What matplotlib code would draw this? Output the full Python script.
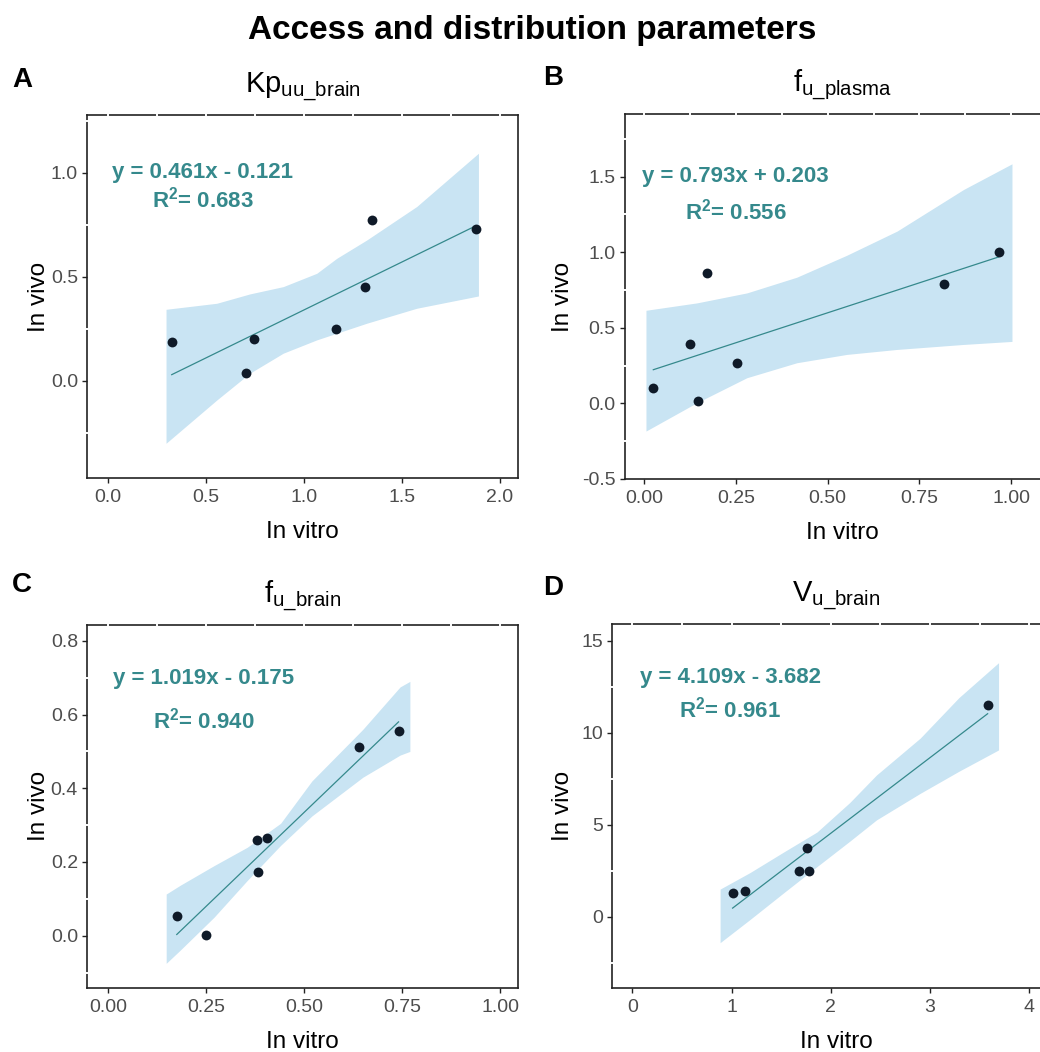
import numpy as np
import matplotlib
matplotlib.use("Agg")
import matplotlib.pyplot as plt
from matplotlib.transforms import blended_transform_factory

plt.rcParams["font.family"] = ["Liberation Sans", "DejaVu Sans"]
plt.rcParams["mathtext.fontset"] = "custom"
plt.rcParams["mathtext.rm"] = "Liberation Sans"
plt.rcParams["mathtext.it"] = "Liberation Sans"
plt.rcParams["mathtext.bf"] = "Liberation Sans:bold"

# Panel A: Kp_uu_brain
a_vitro = [0.325, 0.703, 0.747, 1.163, 1.313, 1.347, 1.878]
a_vivo = [0.185, 0.036, 0.200, 0.249, 0.449, 0.773, 0.731]
a_band_x = [0.296, 0.555, 0.724, 0.894, 1.065, 1.167, 1.32, 1.575, 1.89]
a_band_hi = [0.343, 0.372, 0.417, 0.452, 0.516, 0.588, 0.676, 0.837, 1.093]
a_band_lo = [-0.301, -0.093, 0.036, 0.132, 0.196, 0.228, 0.276, 0.348, 0.407]
a_fit = (0.461, -0.121, 0.683)

# Panel B: f_u_plasma
b_vitro = [0.025, 0.125, 0.148, 0.172, 0.252, 0.816, 0.966]
b_vivo = [0.099, 0.396, 0.018, 0.861, 0.269, 0.793, 0.999]
b_band_x = [0.005, 0.144, 0.28, 0.416, 0.552, 0.689, 0.87, 1.002]
b_band_hi = [0.616, 0.665, 0.731, 0.835, 0.98, 1.14, 1.415, 1.585]
b_band_lo = [-0.183, 0.005, 0.17, 0.269, 0.324, 0.357, 0.39, 0.41]
b_fit = (0.793, 0.203, 0.556)

# Panel C: f_u_brain
c_vitro = [0.175, 0.25, 0.379, 0.383, 0.406, 0.639, 0.741]
c_vivo = [0.054, 0.002, 0.261, 0.172, 0.266, 0.513, 0.556]
c_band_x = [0.148, 0.184, 0.27, 0.355, 0.44, 0.52, 0.65, 0.745, 0.77]
c_band_hi = [0.113, 0.137, 0.19, 0.24, 0.305, 0.42, 0.56, 0.675, 0.69]
c_band_lo = [-0.075, -0.039, 0.05, 0.15, 0.245, 0.325, 0.43, 0.49, 0.50]
c_fit = (1.019, -0.175, 0.940)

# Panel D: V_u_brain
d_vitro = [1.01, 1.136, 1.677, 1.764, 1.78, 3.58]
d_vivo = [1.27, 1.40, 2.5, 3.73, 2.5, 11.5]
d_band_x = [0.884, 1.186, 1.52, 1.86, 2.19, 2.46, 2.9, 3.29, 3.69]
d_band_hi = [1.5, 2.4, 3.5, 4.6, 6.2, 7.7, 9.7, 11.9, 13.8]
d_band_lo = [-1.41, -0.15, 1.28, 2.72, 4.1, 5.26, 6.7, 7.9, 9.06]
d_fit = (4.109, -3.682, 0.961)

TEAL = "#35898c"
BAND = "#c9e4f3"
DOT = "#0f1a28"
EDGE = "#222222"
EQ_SIZE = 16
W, H = 1040, 1052


def draw_panel(ax, vitro, vivo, band_x, band_lo, band_hi, fit, title):
    slope, icpt, r2 = fit
    ax.fill_between(band_x, band_lo, band_hi, color=BAND, lw=0, zorder=1)
    xs = np.array([min(vitro), max(vitro)])
    ax.plot(xs, slope * xs + icpt, color=TEAL, lw=0.9, zorder=2)
    ax.scatter(vitro, vivo, s=50, color=DOT, zorder=3, lw=0)
    ax.set_xlabel("In vitro", fontsize=17.5, labelpad=11)
    ax.text(0.5, 1.06, title, transform=ax.transAxes, ha="center",
            va="baseline", fontsize=21)
    for s in ax.spines.values():
        s.set_color(EDGE)
        s.set_linewidth(1.2)
    ax.tick_params(length=3.6, width=1.0, color=EDGE, labelcolor="#4d4d4d",
                   labelsize=14)
    ax.tick_params(axis="x", pad=4)
    ax.tick_params(axis="y", pad=3)
    sign = "-" if icpt < 0 else "+"
    return f"y = {slope:.3f}x {sign} {abs(icpt):.3f}", f"R$^{{\\mathbf{{2}}}}$= {r2:.3f}"


def border_gaps(ax, xstep, ystep):
    x0, x1 = ax.get_xlim()
    y0, y1 = ax.get_ylim()
    tx = blended_transform_factory(ax.transData, ax.transAxes)
    ty = blended_transform_factory(ax.transAxes, ax.transData)
    for v in np.arange(np.ceil(x0 / xstep) * xstep, x1, xstep):
        ax.plot([v, v], [0.993, 1.007], transform=tx, color="white", lw=1.4,
                clip_on=False, zorder=5, solid_capstyle="butt")
    ticks = ax.get_yticks()
    for v in np.arange(np.ceil(y0 / ystep) * ystep, y1, ystep):
        if np.min(np.abs(ticks - v)) < ystep / 10:
            continue
        ax.plot([-0.005, 0.005], [v, v], transform=ty, color="white", lw=1.4,
                clip_on=False, zorder=5, solid_capstyle="butt")
    ax.set_xlim(x0, x1)
    ax.set_ylim(y0, y1)


def equation(ax, x, y1, y2, lines):
    ax.text(x, y1, lines[0], color=TEAL, fontsize=EQ_SIZE, fontweight="bold",
            ha="center", va="center")
    ax.text(x, y2, lines[1], color=TEAL, fontsize=EQ_SIZE, fontweight="bold",
            ha="center", va="center")


fig = plt.figure(figsize=(10.4, 10.52), dpi=100)
ax_a = fig.add_axes([0.0837, 0.5456, 0.4144, 0.3451])
ax_b = fig.add_axes([0.601, 0.5447, 0.4183, 0.347])
ax_c = fig.add_axes([0.0837, 0.0608, 0.4144, 0.3451])
ax_d = fig.add_axes([0.5885, 0.0608, 0.4308, 0.346])

eq = draw_panel(ax_a, a_vitro, a_vivo, a_band_x, a_band_lo, a_band_hi, a_fit,
                r"Kp$_{\mathregular{uu\_brain}}$")
ax_a.set_xlim(-0.107, 2.092)
ax_a.set_ylim(-0.468, 1.277)
ax_a.set_xticks([0, 0.5, 1.0, 1.5, 2.0], ["0.0", "0.5", "1.0", "1.5", "2.0"])
ax_a.set_yticks([0, 0.5, 1.0], ["0.0", "0.5", "1.0"])
equation(ax_a, 0.482, 1.0, 0.869, eq)
border_gaps(ax_a, 0.25, 0.25)

eq = draw_panel(ax_b, b_vitro, b_vivo, b_band_x, b_band_lo, b_band_hi, b_fit,
                r"f$_{\mathregular{u\_plasma}}$")
ax_b.set_xlim(-0.052, 1.133)
ax_b.set_ylim(-0.5, 1.915)
ax_b.set_xticks([0, 0.25, 0.5, 0.75, 1.0], ["0.00", "0.25", "0.50", "0.75", "1.00"])
ax_b.set_yticks([-0.5, 0, 0.5, 1.0, 1.5], ["-0.5", "0.0", "0.5", "1.0", "1.5"])
equation(ax_b, 0.249, 1.5, 1.268, eq)
border_gaps(ax_b, 0.125, 0.25)

eq = draw_panel(ax_c, c_vitro, c_vivo, c_band_x, c_band_lo, c_band_hi, c_fit,
                r"f$_{\mathregular{u\_brain}}$")
ax_c.set_xlim(-0.054, 1.046)
ax_c.set_ylim(-0.142, 0.843)
ax_c.set_xticks([0, 0.25, 0.5, 0.75, 1.0], ["0.00", "0.25", "0.50", "0.75", "1.00"])
ax_c.set_yticks([0, 0.2, 0.4, 0.6, 0.8], ["0.0", "0.2", "0.4", "0.6", "0.8"])
equation(ax_c, 0.244, 0.699, 0.585, eq)
border_gaps(ax_c, 0.125, 0.1)

eq = draw_panel(ax_d, d_vitro, d_vivo, d_band_x, d_band_lo, d_band_hi, d_fit,
                r"V$_{\mathregular{u\_brain}}$")
ax_d.set_xlim(-0.205, 4.31)
ax_d.set_ylim(-3.875, 15.9)
ax_d.set_xticks([0, 1, 2, 3, 4], ["0", "1", "2", "3", "4"])
ax_d.set_yticks([0, 5, 10, 15], ["0", "5", "10", "15"])
equation(ax_d, 0.985, 12.97, 11.23, eq)
border_gaps(ax_d, 0.5, 2.5)

# y axis titles, placed by pixel like the composed reference
for x, y in [(39, 297), (563, 297), (39, 806), (563, 806)]:
    fig.text(x / W, 1 - y / H, "In vivo", rotation=90, ha="center",
             va="center", fontsize=17.5)

fig.text(0.512, 1 - 30 / H, "Access and distribution parameters", ha="center",
         va="center", fontsize=24, fontweight="bold")
for lab, x, y in [("A", 22, 80), ("B", 553, 78), ("C", 22, 585), ("D", 553, 588)]:
    fig.text(x / W, 1 - y / H, lab, ha="center", va="center",
             fontsize=20, fontweight="bold")

fig.savefig("out.png", dpi=100)
